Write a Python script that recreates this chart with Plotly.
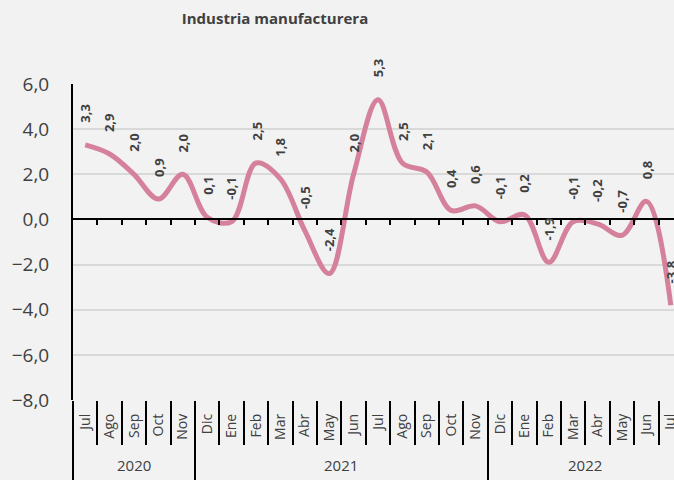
import plotly.graph_objects as go

title = "Industria manufacturera"
years = ["2020"] * 5 + ["2021"] * 12 + ["2022"] * 8
months = ["Jul", "Ago", "Sep", "Oct", "Nov",
          "Dic", "Ene", "Feb", "Mar", "Abr", "May", "Jun", "Jul", "Ago", "Sep", "Oct", "Nov",
          "Dic", "Ene", "Feb", "Mar", "Abr", "May", "Jun", "Jul"]
values = [3.3, 2.9, 2.0, 0.9, 2.0,
          0.1, -0.1, 2.5, 1.8, -0.5, -2.4, 2.0, 5.3, 2.5, 2.1, 0.4, 0.6,
          -0.1, 0.2, -1.9, -0.1, -0.2, -0.7, 0.8, -3.8]
y_ticks = [-8, -6, -4, -2, 0, 2, 4, 6]

LINE = "#D5819B"
TXT = "#404040"
FONT = "Open Sans"
BG = "#F2F2F2"

n = len(values)
idx = list(range(n))
xr = [-0.5, n - 0.5]
yr = [-8, 6]
FIG_W = 683  # wider than the 674px window: the right edge is cut off like the reference

# group boundaries / centres derived from the year list
year_groups = []
for i, yv in enumerate(years):
    if not year_groups or year_groups[-1][0] != yv:
        year_groups.append([yv, i, i])
    else:
        year_groups[-1][2] = i
year_bounds = [g[1] - 0.5 for g in year_groups] + [year_groups[-1][2] + 0.5]
month_bounds = [i - 0.5 for i in idx] + [n - 0.5]

fig = go.Figure()
fig.add_trace(go.Scatter(
    x=idx, y=values, mode="lines",
    line=dict(color=LINE, width=5, shape="spline", smoothing=1.0),
    hoverinfo="skip", showlegend=False,
))
for ax in ["x2", "x3", "x4"]:
    fig.add_trace(go.Scatter(x=idx, y=values, xaxis=ax, mode="lines",
                             line=dict(width=0), opacity=0, showlegend=False,
                             hoverinfo="skip"))

for i, v in enumerate(values):
    fig.add_annotation(
        x=i, y=v, xref="x", yref="y",
        text="<b>" + f"{v:.1f}".replace(".", ",") + "</b>",
        textangle=-90, showarrow=False, yanchor="bottom", xanchor="center",
        yshift=20, font=dict(family=FONT, size=13, color=TXT),
    )

for name, a, b in year_groups:
    fig.add_annotation(
        x=(a + b) / 2, y=0, xref="x", yref="paper", text=name,
        showarrow=False, yanchor="middle", xanchor="center", yshift=-65,
        font=dict(family=FONT, size=15, color=TXT),
    )

zero_pos = (0 - yr[0]) / (yr[1] - yr[0])

fig.update_layout(
    width=FIG_W, height=480,
    paper_bgcolor=BG, plot_bgcolor=BG,
    margin=dict(l=73, r=0, t=84, b=77),
    title=dict(text="<b>" + title + "</b>", x=275 / FIG_W, xanchor="center",
               y=0.972, yanchor="top",
               font=dict(family=FONT, size=15, color=TXT)),
    # month labels
    xaxis=dict(
        range=xr, tickvals=idx, ticktext=months, tickangle=-90,
        tickfont=dict(family=FONT, size=14, color=TXT), ticks="",
        showgrid=False, showline=False, zeroline=False, ticklabelstandoff=10,
    ),
    # zero-crossing axis with small ticks
    xaxis2=dict(
        overlaying="x", anchor="free", position=zero_pos, range=xr,
        tickvals=month_bounds[1:-1], ticks="outside", ticklen=5,
        tickwidth=2, tickcolor="black", showticklabels=False,
        showline=True, linecolor="black", linewidth=2,
        showgrid=False, zeroline=False,
    ),
    # month separators
    xaxis3=dict(
        overlaying="x", anchor="y", side="bottom", range=xr,
        tickvals=month_bounds, ticks="outside", ticklen=44,
        tickwidth=2, tickcolor="black", showticklabels=False,
        showline=False, showgrid=False, zeroline=False,
    ),
    # year separators
    xaxis4=dict(
        overlaying="x", anchor="y", side="bottom", range=xr,
        tickvals=year_bounds, ticks="outside", ticklen=80,
        tickwidth=2, tickcolor="black", showticklabels=False,
        showline=False, showgrid=False, zeroline=False,
    ),
    yaxis=dict(
        range=yr, tickvals=y_ticks, tickformat=".1f",
        tickfont=dict(family=FONT, size=19, color=TXT),
        showgrid=True, gridcolor="#D9D9D9", gridwidth=2,
        showline=True, linecolor="black", linewidth=2,
        zeroline=False, ticks="", ticklabelstandoff=18,
    ),
    separators=",.",
)

fig.write_html(
    "out.html",
    config={"displayModeBar": False},
    post_script="document.body.style.margin='0';"
                "document.body.style.background='" + BG + "';"
                "document.body.style.overflow='hidden';",
)
